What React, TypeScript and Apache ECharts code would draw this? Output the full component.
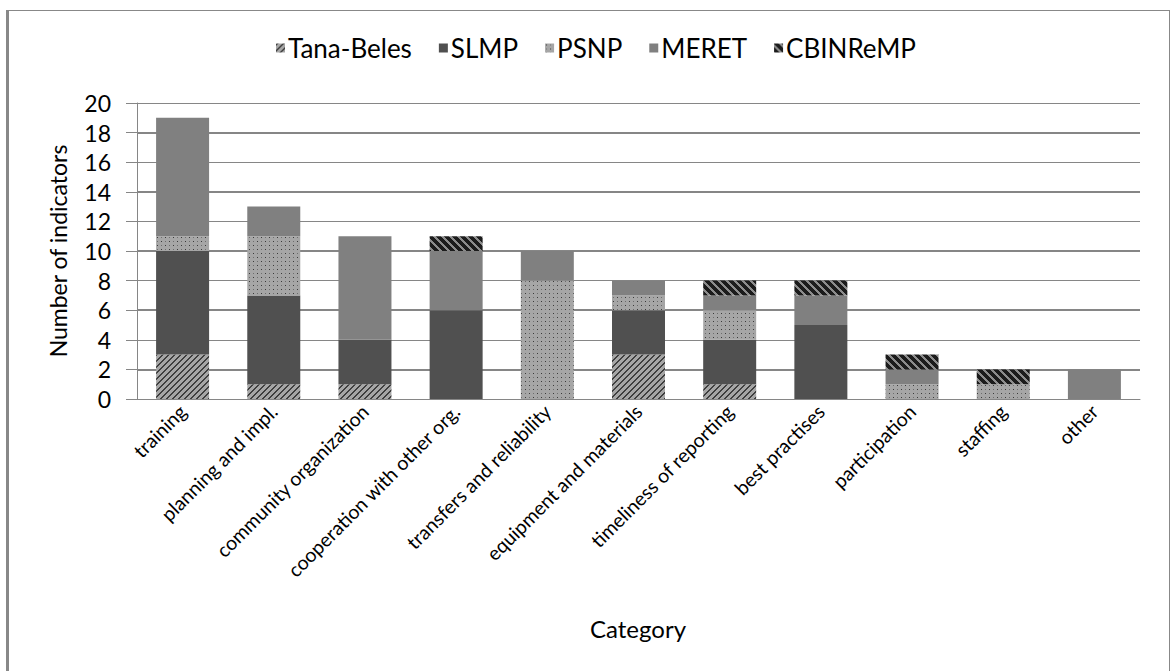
import React, { useEffect, useRef } from "react";
import * as echarts from "echarts";

const categories = [
  "training",
  "planning and impl.",
  "community organization",
  "cooperation with other org.",
  "transfers and reliability",
  "equipment and materials",
  "timeliness of reporting",
  "best practises",
  "participation",
  "staffing",
  "other",
];
const seriesNames = ["Tana-Beles", "SLMP", "PSNP", "MERET", "CBINReMP"];
const tanaBeles = [3, 1, 1, 0, 0, 3, 1, 0, 0, 0, 0];
const slmp = [7, 6, 3, 6, 0, 3, 3, 5, 0, 0, 0];
const psnp = [1, 4, 0, 0, 8, 1, 2, 0, 1, 1, 0];
const meret = [8, 2, 7, 4, 2, 1, 1, 2, 1, 0, 2];
const cbinremp = [0, 0, 0, 1, 0, 0, 1, 1, 1, 1, 0];
const heavyGridValues = [2, 6, 10, 14, 18];

const FONT = "Lato";

function hexToRgb(h: string) {
  const n = parseInt(h.slice(1), 16);
  return [(n >> 16) & 255, (n >> 8) & 255, n & 255];
}

function makePattern(size: number, fn: (x: number, y: number) => string) {
  const c = document.createElement("canvas");
  c.width = size;
  c.height = size;
  const ctx = c.getContext("2d")!;
  const img = ctx.createImageData(size, size);
  for (let y = 0; y < size; y++) {
    for (let x = 0; x < size; x++) {
      const [r, g, b] = hexToRgb(fn(x, y));
      const i = (y * size + x) * 4;
      img.data[i] = r;
      img.data[i + 1] = g;
      img.data[i + 2] = b;
      img.data[i + 3] = 255;
    }
  }
  ctx.putImageData(img, 0, 0);
  return { image: c, repeat: "repeat", imageWidth: size, imageHeight: size } as any;
}

export default function App() {
  const ref = useRef<HTMLDivElement>(null);
  useEffect(() => {
    if (!ref.current) return;
    const chart = echarts.init(ref.current, null, { renderer: "svg" });

    const tanaPat = makePattern(6, (x, y) => ((x + y) % 6 < 2 ? "#3f3f3f" : "#a6a6a6"));
    const cbPat = makePattern(8, (x, y) => (((x - y) % 8 + 8) % 8 < 5 ? "#1c1c1c" : "#8c8c8c"));
    const psnpPat = makePattern(8, (x, y) => {
      if ((x === 1 && y === 1) || (x === 5 && y === 5)) return "#3a3a3a";
      if ((x === 5 && y === 1) || (x === 1 && y === 5)) return "#6e6e6e";
      return "#a6a6a6";
    });

    const colors: any[] = [tanaPat, "#505050", psnpPat, "#808080", cbPat];
    const dataSets = [tanaBeles, slmp, psnp, meret, cbinremp];

    chart.setOption({
      animation: false,
      textStyle: { fontFamily: FONT },
      legend: {
        top: 30,
        left: 271,
        itemWidth: 9,
        itemHeight: 9,
        itemGap: 27,
        icon: "rect",
        textStyle: { fontFamily: FONT, fontSize: 26, color: "#000", padding: [0, 0, 0, -2] },
        data: seriesNames,
      },
      grid: { left: 137, right: 30, top: 103, bottom: 272, containLabel: false },
      xAxis: {
        type: "category",
        data: categories,
        axisLine: { lineStyle: { color: "#868686", width: 1 } },
        axisTick: { show: false },
        axisLabel: {
          rotate: 45,
          interval: 0,
          margin: 9,
          fontFamily: FONT,
          fontSize: 19.5,
          color: "#000",
        },
      },
      yAxis: {
        type: "value",
        min: 0,
        max: 20,
        interval: 2,
        name: "Number of indicators",
        nameLocation: "middle",
        nameGap: 68,
        nameTextStyle: { fontFamily: FONT, fontSize: 23, color: "#000" },
        axisLine: { show: true, lineStyle: { color: "#868686", width: 1 } },
        axisTick: { show: true, length: 11, lineStyle: { color: "#868686" } },
        splitLine: { lineStyle: { color: "#868686", width: 1 } },
        axisLabel: {
          margin: 26,
          fontFamily: FONT,
          fontSize: 23,
          color: "#000",
        },
      },
      graphic: [
        {
          type: "text",
          x: 638,
          y: 628,
          style: {
            text: "Category",
            fontFamily: FONT,
            fontSize: 24,
            fill: "#000",
            textAlign: "center",
            textVerticalAlign: "middle",
          },
        },
      ],
      series: seriesNames.map((name, i) => ({
        name,
        type: "bar",
        stack: "total",
        barWidth: 53,
        z: 2,
        data: dataSets[i].map((v) => (v === 0 ? null : v)),
        itemStyle: { color: colors[i] },
        markLine:
          i === 0
            ? {
                z: 1,
                silent: true,
                symbol: "none",
                label: { show: false },
                lineStyle: { color: "#868686", width: 2, type: "solid" },
                data: heavyGridValues.map((v) => ({ yAxis: v })),
              }
            : undefined,
      })),
    });
    return () => chart.dispose();
  }, []);

  return (
    <div
      style={{
        position: "absolute",
        left: 0,
        top: 0,
        width: 1170,
        height: 671,
        background: "#fff",
      }}
    >
      <div
        style={{
          position: "absolute",
          left: 6,
          top: 10,
          width: 1164,
          height: 680,
          borderLeft: "3px solid #888",
          borderTop: "1px solid #888",
          borderRight: "1px solid #888",
          boxSizing: "border-box",
        }}
      />
      <div ref={ref} style={{ position: "absolute", left: 0, top: 0, width: 1170, height: 671 }} />
    </div>
  );
}
